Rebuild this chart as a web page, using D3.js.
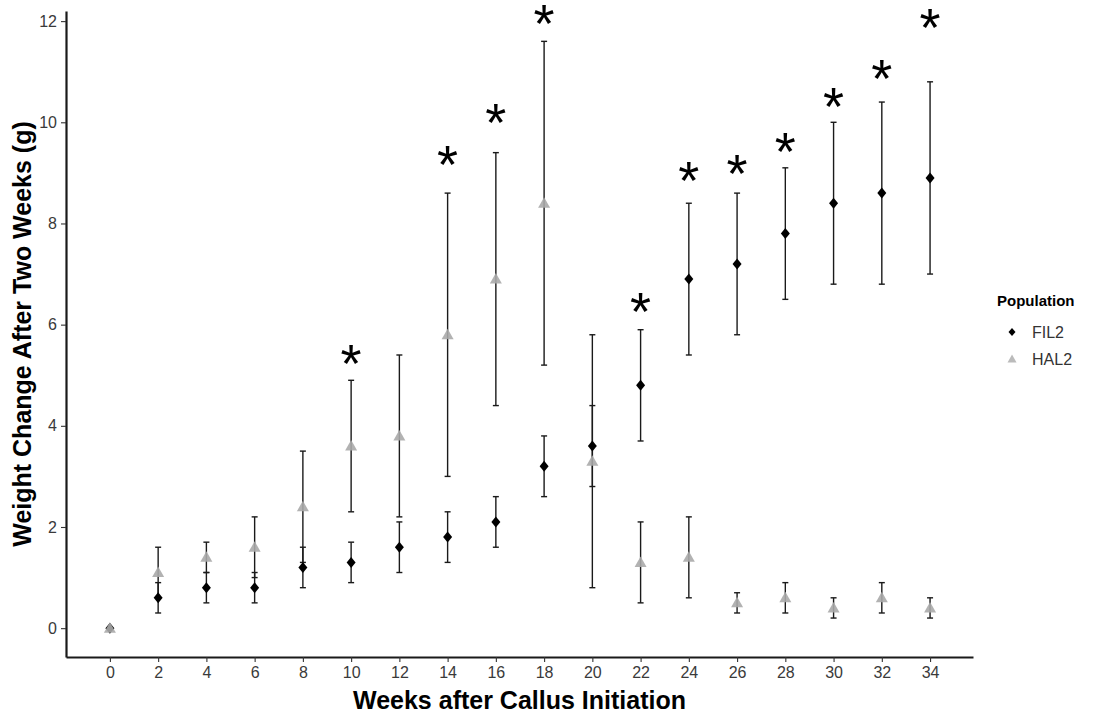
<!DOCTYPE html>
<html>
<head>
<meta charset="utf-8">
<script src="https://cdn.jsdelivr.net/npm/d3@7"></script>
<style>
  body { margin: 0; background: #fff; }
  svg { display: block; font-family: "Liberation Sans", Arial, sans-serif; }
</style>
</head>
<body>
<script>
'use strict'

// weeks after callus initiation
var weeks = [0, 2, 4, 6, 8, 10, 12, 14, 16, 18, 20, 22, 24, 26, 28, 30, 32, 34]
// FIL2 mean and +/- error
var fil2Mean = [0, 0.6, 0.8, 0.8, 1.2, 1.3, 1.6, 1.8, 2.1, 3.2, 3.6, 4.8, 6.9, 7.2, 7.8, 8.4, 8.6, 8.9]
var fil2Err  = [0, 0.3, 0.3, 0.3, 0.4, 0.4, 0.5, 0.5, 0.5, 0.6, 0.8, 1.1, 1.5, 1.4, 1.3, 1.6, 1.8, 1.9]
// HAL2 mean and +/- error
var hal2Mean = [0, 1.1, 1.4, 1.6, 2.4, 3.6, 3.8, 5.8, 6.9, 8.4, 3.3, 1.3, 1.4, 0.5, 0.6, 0.4, 0.6, 0.4]
var hal2Err  = [0, 0.5, 0.3, 0.6, 1.1, 1.3, 1.6, 2.8, 2.5, 3.2, 2.5, 0.8, 0.8, 0.2, 0.3, 0.2, 0.3, 0.2]
// significance markers
var sigWeeks = [10, 14, 16, 18, 22, 24, 26, 28, 30, 32, 34]
var sigY     = [5.36, 9.31, 10.14, 12.09, 6.39, 8.99, 9.12, 9.55, 10.44, 11.0, 12.02]
var yTicks = [0, 2, 4, 6, 8, 10, 12]

var W = 1105, H = 715
  , pLeft = 66, pRight = 973, pTop = 11, pBottom = 657
  , svg = d3.select('body').append('svg').attr('width', W).attr('height', H)
  , x = d3.scaleLinear().domain([-1.82, 35.78]).range([pLeft, pRight])
  , y = d3.scaleLinear().domain([-0.57, 12.2]).range([pBottom, pTop])
  , ink = '#1a1a1a', grey = '#aaaaaa'

var rows = function(mean, err, pop){
  return weeks.map(function(w, i){ return { w: w, m: mean[i], e: err[i], pop: pop } })
}
var fil2 = rows(fil2Mean, fil2Err, 'FIL2')
  , hal2 = rows(hal2Mean, hal2Err, 'HAL2')

var diamond = 'M0,-5.5L4.5,0L0,5.5L-4.5,0Z'
  , triangle = 'M0,-6L6,4.5L-6,4.5Z'

// axes
var xAxis = svg.append('g').attr('transform', 'translate(0,' + pBottom + ')')
  .call(d3.axisBottom(x).tickValues(weeks).tickSize(5).tickSizeOuter(0).tickPadding(5))
var yAxis = svg.append('g').attr('transform', 'translate(' + pLeft + ',0)')
  .call(d3.axisLeft(y).tickValues(yTicks).tickSize(5).tickSizeOuter(0).tickPadding(4))
;[xAxis, yAxis].forEach(function(a){
  a.select('.domain').attr('stroke', ink).attr('stroke-width', 2.2)
  a.selectAll('.tick line').attr('stroke', '#333').attr('stroke-width', 1.1)
  a.selectAll('.tick text').attr('fill', '#3a3a3a').style('font-size', '16px')
  a.attr('font-family', null)
})

// error bars (both series drawn in dark ink)
var bars = svg.append('g')
fil2.concat(hal2).filter(function(d){ return d.e > 0 }).forEach(function(d){
  var cx = x(d.w), y0 = y(d.m - d.e), y1 = y(d.m + d.e)
  bars.append('line').attr('x1', cx).attr('x2', cx).attr('y1', y0).attr('y2', y1)
    .attr('stroke', ink).attr('stroke-width', 1.4)
  ;[y0, y1].forEach(function(yy){
    bars.append('line').attr('x1', cx - 3).attr('x2', cx + 3).attr('y1', yy).attr('y2', yy)
      .attr('stroke', ink).attr('stroke-width', 1.4)
  })
})

// points
svg.append('g').selectAll('path').data(fil2).enter().append('path')
  .attr('d', diamond).attr('fill', '#000')
  .attr('transform', function(d){ return 'translate(' + x(d.w) + ',' + y(d.m) + ')' })
svg.append('g').selectAll('path').data(hal2).enter().append('path')
  .attr('d', triangle).attr('fill', grey).attr('fill-opacity', 0.9)
  .attr('transform', function(d){ return 'translate(' + x(d.w) + ',' + y(d.m) + ')' })

// significance asterisks
var fs = 54
svg.append('g').selectAll('text').data(sigWeeks).enter().append('text')
  .attr('x', function(d){ return x(d) })
  .attr('y', function(d, i){ return y(sigY[i]) + fs * 0.47 })
  .attr('text-anchor', 'middle').style('font-size', fs + 'px').attr('fill', '#000')
  .text('*')

// axis titles
svg.append('text').attr('x', (pLeft + pRight) / 2).attr('y', 709)
  .attr('text-anchor', 'middle').style('font-size', '25px').style('font-weight', 'bold')
  .attr('fill', '#000').text('Weeks after Callus Initiation')
svg.append('text').attr('transform', 'translate(31,' + (pTop + pBottom) / 2 + ') rotate(-90)')
  .attr('text-anchor', 'middle').style('font-size', '25px').style('font-weight', 'bold')
  .attr('fill', '#000').text('Weight Change After Two Weeks (g)')

// legend
var lg = svg.append('g').attr('transform', 'translate(997,0)')
lg.append('text').attr('x', 0).attr('y', 306).style('font-size', '15px').style('font-weight', 'bold')
  .attr('fill', '#000').text('Population')
lg.append('path').attr('d', 'M0,-4L3.5,0L0,4L-3.5,0Z').attr('fill', '#000')
  .attr('transform', 'translate(15,332)')
lg.append('path').attr('d', 'M0,-4.5L4.5,3.5L-4.5,3.5Z').attr('fill', '#bbbbbb')
  .attr('transform', 'translate(15,359)')
lg.append('text').attr('x', 35).attr('y', 338).style('font-size', '16px').attr('fill', '#333').text('FIL2')
lg.append('text').attr('x', 35).attr('y', 365).style('font-size', '16px').attr('fill', '#333').text('HAL2')
</script>
</body>
</html>
